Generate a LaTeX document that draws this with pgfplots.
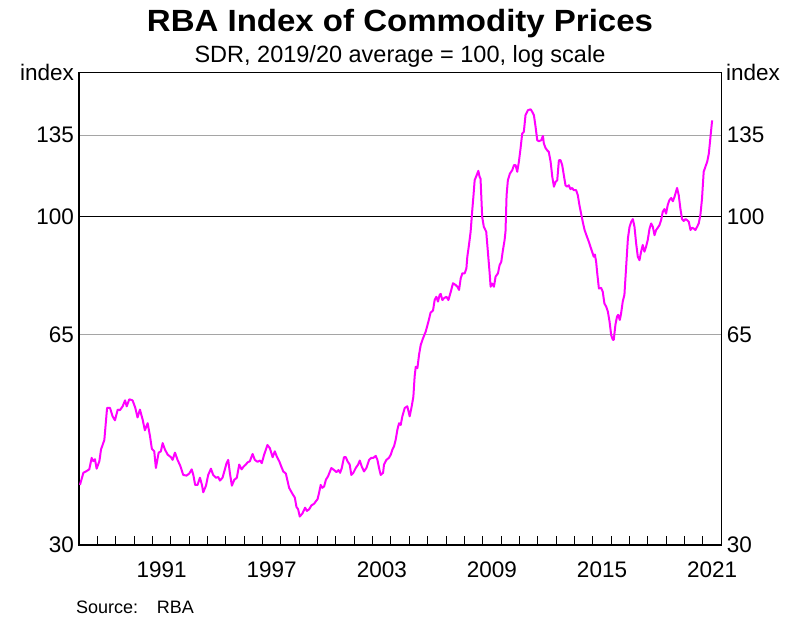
\documentclass[border=0pt]{standalone}
\usepackage{fontspec}
\setmainfont{Liberation Sans}
\usepackage{graphicx}
\usepackage{pgfplots}
\pgfplotsset{compat=1.18}
\definecolor{rbamag}{RGB}{255,0,255}
\definecolor{gridgray}{RGB}{165,165,165}
\begin{document}
\begin{tikzpicture}[x=1pt,y=1pt]
\useasboundingbox (0,0) rectangle (800,620);
\begin{axis}[
  at={(79pt,75pt)}, anchor=south west,
  width=642.3pt, height=472.7pt, scale only axis,
  xmin=1987, xmax=2022, ymode=log, ymin=30, ymax=170,
  axis line style={line width=1.2pt},
  major tick length=0pt, minor tick length=9pt,
  xtick pos=left,
  xtick={1991.5,1997.5,2003.5,2009.5,2015.5,2021.5},
  xticklabels={1991,1997,2003,2009,2015,2021},
  minor xtick={1988,1989,...,2021},
  minor x tick style={line width=0.9pt, black},
  yminorticks=false,
  ytick={30,65,135}, yticklabels={30,65,135},
  extra y ticks={100}, extra y tick labels={100},
  extra y tick style={ymajorgrids=true, major grid style={black, line width=1pt}},
  ymajorgrids=true, major grid style={gridgray, line width=1pt},
  yticklabel style={font=\fontsize{22.5}{22.5}\selectfont, anchor=east, inner sep=0pt, xshift=-5pt},
  xticklabel style={font=\fontsize{22.5}{22.5}\selectfont, anchor=base, inner sep=0pt, yshift=-33pt},
]
\addplot[rbamag, line width=2pt, line join=round] coordinates {
(1987.05,37.4) (1987.24,39.1) (1987.38,39.3) (1987.56,39.6) (1987.69,41.3) (1987.78,40.8) (1987.87,41.1) (1987.96,39.7) (1988.11,40.8) (1988.20,42.6) (1988.38,44.1) (1988.53,49.6) (1988.69,49.6) (1988.83,48.1) (1988.96,47.4) (1989.11,49.3) (1989.23,49.2) (1989.38,49.9) (1989.51,51.0) (1989.60,49.9) (1989.74,51.2) (1989.92,51.0) (1990.07,49.6) (1990.19,47.9) (1990.32,49.3) (1990.47,47.5) (1990.59,45.7) (1990.74,46.9) (1990.87,44.7) (1990.97,42.7) (1991.10,42.3) (1991.19,39.8) (1991.34,42.1) (1991.46,42.3) (1991.56,43.6) (1991.68,42.6) (1991.83,41.8) (1992.01,41.4) (1992.10,41.0) (1992.23,42.1) (1992.37,41.0) (1992.52,40.1) (1992.68,38.8) (1992.86,38.7) (1993.01,39.0) (1993.14,39.6) (1993.23,38.8) (1993.33,37.4) (1993.46,37.4) (1993.59,38.4) (1993.70,37.4) (1993.77,36.4) (1993.92,37.3) (1994.04,38.8) (1994.19,39.7) (1994.31,38.8) (1994.46,38.4) (1994.59,38.5) (1994.68,38.0) (1994.82,38.4) (1994.95,39.6) (1995.04,40.5) (1995.13,41.0) (1995.22,39.1) (1995.33,37.3) (1995.46,38.1) (1995.60,38.4) (1995.73,40.3) (1995.86,39.6) (1995.97,40.0) (1996.09,40.3) (1996.18,40.6) (1996.31,40.8) (1996.46,41.9) (1996.58,41.0) (1996.73,40.7) (1996.87,40.9) (1996.96,40.5) (1997.09,41.8) (1997.27,43.3) (1997.40,42.8) (1997.55,41.4) (1997.67,42.3) (1997.78,41.5) (1997.91,40.8) (1998.04,39.9) (1998.13,39.3) (1998.27,39.0) (1998.45,37.0) (1998.63,36.2) (1998.76,35.7) (1998.85,34.5) (1998.94,34.2) (1999.03,33.3) (1999.18,33.7) (1999.32,34.4) (1999.42,34.0) (1999.54,34.2) (1999.67,34.7) (1999.81,34.9) (1999.90,35.2)
(2000.00,35.5) (2000.08,36.3) (2000.17,37.4) (2000.26,37.0) (2000.36,37.2) (2000.45,38.1) (2000.57,38.6) (2000.75,39.8) (2000.90,39.5) (2001.03,39.2) (2001.14,39.5) (2001.23,39.1) (2001.32,39.8) (2001.44,41.4) (2001.54,41.4) (2001.63,40.8) (2001.75,40.3) (2001.84,38.8) (2001.95,39.1) (2002.08,39.8) (2002.21,40.3) (2002.30,40.9) (2002.41,40.0) (2002.53,39.3) (2002.66,39.8) (2002.81,41.0) (2002.93,41.3) (2003.04,41.3) (2003.17,41.6) (2003.26,41.0) (2003.35,39.8) (2003.44,38.8) (2003.57,39.1) (2003.62,40.3) (2003.75,41.0) (2003.89,41.3) (2003.99,41.8) (2004.08,42.6) (2004.17,43.1) (2004.26,44.2) (2004.35,45.8) (2004.44,46.9) (2004.53,46.6) (2004.62,48.1) (2004.75,49.6) (2004.89,49.9) (2005.02,48.1) (2005.13,49.9) (2005.22,51.7) (2005.29,55.7) (2005.35,57.7) (2005.44,57.4) (2005.53,60.3) (2005.62,62.5) (2005.75,64.1) (2005.89,65.6) (2006.04,68.1) (2006.16,70.4) (2006.29,70.9) (2006.38,73.7) (2006.47,74.6) (2006.56,73.3) (2006.65,75.1) (2006.71,75.4) (2006.80,73.7) (2006.89,74.2) (2007.02,74.6) (2007.13,73.7) (2007.26,76.0) (2007.38,78.4) (2007.52,77.9) (2007.62,77.4) (2007.71,76.5) (2007.80,79.8) (2007.89,81.3) (2008.02,81.3) (2008.11,82.8) (2008.16,86.4) (2008.25,90.2) (2008.34,94.7) (2008.43,102.5) (2008.49,107.6) (2008.56,114.4) (2008.67,116.5) (2008.76,118.4) (2008.83,115.8)
(2008.88,115.1) (2008.97,100.0) (2009.06,96.4) (2009.19,94.7) (2009.28,88.0) (2009.37,81.8) (2009.43,77.4) (2009.52,78.3) (2009.61,77.4) (2009.70,80.3) (2009.83,81.3) (2009.92,83.8) (2010.01,84.8) (2010.10,88.5) (2010.19,91.8) (2010.24,94.7) (2010.30,108.3) (2010.37,114.4) (2010.48,117.2) (2010.61,118.7) (2010.70,120.9) (2010.79,120.9) (2010.88,118.0) (2010.97,122.4) (2011.06,128.5) (2011.15,135.7) (2011.24,136.6) (2011.33,145.2) (2011.46,147.9) (2011.61,148.4) (2011.70,147.0) (2011.79,145.2) (2011.88,139.1) (2011.97,132.5) (2012.06,132.0) (2012.19,132.5) (2012.28,134.6) (2012.33,130.9) (2012.42,128.8) (2012.51,127.7) (2012.60,126.9) (2012.70,122.4) (2012.79,115.8) (2012.88,111.7) (2012.97,113.7) (2013.06,114.4) (2013.15,123.1) (2013.24,123.1) (2013.33,120.9) (2013.42,116.5) (2013.51,112.3) (2013.60,111.7) (2013.69,112.3) (2013.78,110.7) (2013.87,111.2) (2013.96,110.3) (2014.09,110.3) (2014.18,108.3) (2014.27,104.4) (2014.36,101.2) (2014.45,98.2) (2014.55,95.3) (2014.65,93.5) (2014.78,91.3) (2014.87,89.6) (2014.96,88.0) (2015.05,86.4) (2015.11,87.1) (2015.18,84.8) (2015.24,81.3) (2015.33,76.9) (2015.45,77.1) (2015.54,76.0) (2015.63,72.8) (2015.73,71.9) (2015.82,70.6) (2015.91,68.1) (2016.00,64.8) (2016.09,63.7) (2016.14,63.7) (2016.23,67.3) (2016.32,69.4) (2016.38,69.8) (2016.47,68.5) (2016.54,70.2) (2016.63,73.3) (2016.72,75.1) (2016.81,82.8) (2016.91,92.4) (2017.00,96.4) (2017.09,98.2) (2017.18,99.2) (2017.27,96.4) (2017.36,90.7) (2017.45,86.4) (2017.54,85.3) (2017.63,88.0) (2017.72,90.2) (2017.81,88.0) (2017.90,89.6) (2017.99,91.8) (2018.09,95.8) (2018.18,97.6) (2018.27,96.4) (2018.36,93.5) (2018.45,95.3) (2018.54,96.1) (2018.63,97.0) (2018.72,98.8) (2018.81,101.9) (2018.90,102.9) (2018.99,101.2) (2019.08,104.4) (2019.17,106.3) (2019.27,107.2) (2019.36,105.9) (2019.45,107.6) (2019.59,111.2) (2019.68,108.3) (2019.77,103.1) (2019.86,99.2) (2019.95,98.5) (2020.05,99.2) (2020.14,98.8) (2020.23,98.2) (2020.32,95.3) (2020.41,96.1) (2020.50,95.8) (2020.59,95.3) (2020.68,96.4) (2020.77,97.6) (2020.86,100.7) (2020.95,107.0) (2021.04,118.0) (2021.13,120.1) (2021.23,122.4) (2021.32,126.1) (2021.41,134.1) (2021.50,142.5)
};
\end{axis}
\begin{axis}[
  at={(79pt,75pt)}, anchor=south west,
  width=642.3pt, height=472.7pt, scale only axis,
  xmin=1987, xmax=2022, ymode=log, ymin=30, ymax=170,
  hide x axis, axis line style={draw=none},
  major tick length=0pt, yminorticks=false,
  yticklabel pos=right,
  ytick={30,65,100,135}, yticklabels={30,65,100,135},
  yticklabel style={font=\fontsize{22.5}{22.5}\selectfont, anchor=west, inner sep=0pt, xshift=5.4pt},
]
\end{axis}
\node[anchor=base, inner sep=0pt, font=\bfseries\fontsize{33}{33}\selectfont] at (400,588.3) {\scalebox{1}[0.93]{RBA Index of Commodity Prices}};
\node[anchor=base, inner sep=0pt, font=\fontsize{23.5}{23.5}\selectfont] at (400,557.7) {SDR, 2019/20 average = 100, log scale};
\node[anchor=base east, inner sep=0pt, font=\fontsize{22.5}{22.5}\selectfont] at (74,539.3) {index};
\node[anchor=base west, inner sep=0pt, font=\fontsize{22.5}{22.5}\selectfont] at (726,539.3) {index};
\node[anchor=base west, inner sep=0pt, font=\fontsize{18}{18}\selectfont] at (76,6) {\makebox[80.7pt][l]{Source:}RBA};
\end{tikzpicture}
\end{document}
